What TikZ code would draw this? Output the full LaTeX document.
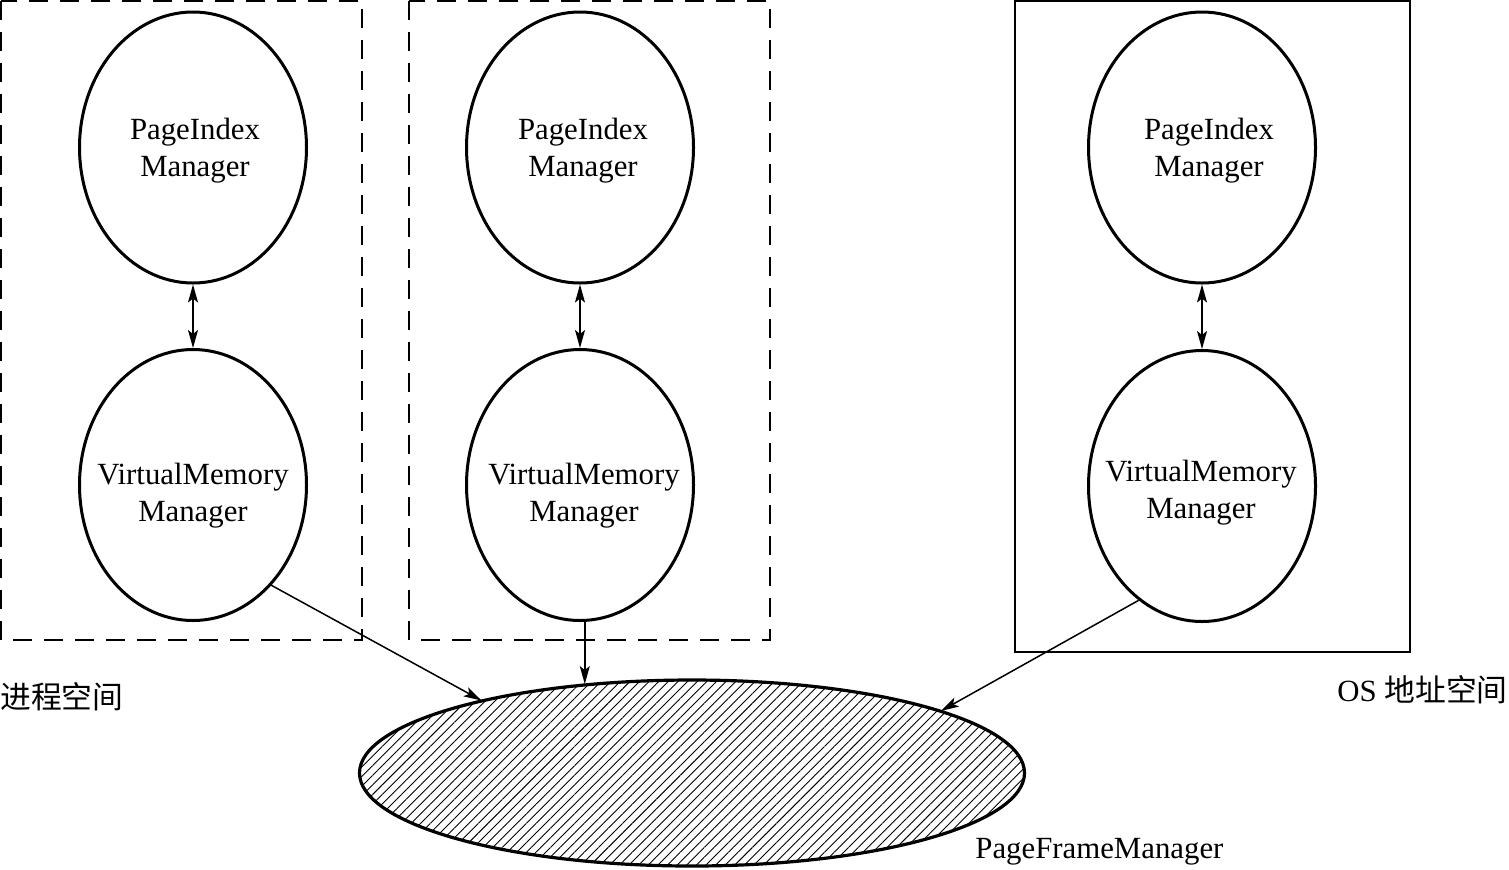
\documentclass[tikz,border=0pt]{standalone}
\usepackage{fontspec}
\setmainfont{Liberation Serif}
\newfontfamily\cjk{Noto Sans CJK SC}
\usetikzlibrary{shapes.geometric,arrows.meta,patterns.meta}
\begin{document}
\begin{tikzpicture}[x=0.5pt,y=-0.5pt,
  every node/.style={font=\fontsize{15.4}{18.5}\selectfont},
  mgr/.style={draw,ellipse,line width=1.5pt,inner sep=0pt,minimum width=113.5pt,minimum height=135.5pt},
  txt/.style={align=center,inner sep=0pt},
  dbox/.style={draw,line width=1.4pt,dash pattern=on 9.5pt off 6pt},
  sbox/.style={draw,line width=1.4pt},
  conn/.style={line width=0.75pt,-{Stealth[length=9pt,width=5pt,inset=2pt]}},
  dconn/.style={line width=0.75pt,{Stealth[length=9pt,width=5pt,inset=2pt]}-{Stealth[length=9pt,width=5pt,inset=2pt]}},
  lbl/.style={inner sep=0pt}]
\useasboundingbox (0,0) rectangle (1509,869);
% boxes
\draw[dbox] (1,1) rectangle (362,640);
\draw[dbox] (409,1) rectangle (770,640);
\draw[sbox] (1015,1) rectangle (1410,652);
% ellipses
\node[mgr] (p1) at (193,147.5) {};
\node[mgr] (v1) at (193,485) {};
\node[mgr] (p2) at (580,147.5) {};
\node[mgr] (v2) at (580,485) {};
\node[mgr] (p3) at (1202,147.5) {};
\node[mgr] (v3) at (1202,486) {};
\node[txt] (tp1) at (195,151) {PageIndex\\Manager};
\node[txt] (tv1) at (193,496) {VirtualMemory\\Manager};
\node[txt] (tp2) at (583,151) {PageIndex\\Manager};
\node[txt] (tv2) at (584,496) {VirtualMemory\\Manager};
\node[txt] (tp3) at (1209,151) {PageIndex\\Manager};
\node[txt] (tv3) at (1201,493) {VirtualMemory\\Manager};
% page frame manager
\node[draw,ellipse,line width=1.6pt,minimum width=332.5pt,minimum height=93pt,inner sep=0pt,
  pattern={Lines[angle=45,distance=3.4pt,line width=0.45pt]}] (pfm) at (692,773) {};
% connectors
\draw[dconn] (p1.south) -- (v1.north);
\draw[dconn] (p2.south) -- (v2.north);
\draw[dconn] (p3.south) -- (v3.north);
\draw[conn] (v1.-52) -- (pfm.161.4);
\draw[conn] (v2.-88.5) -- (v2.-88.5 |- pfm.139.7);
\draw[conn] (v3.241.5) -- (pfm.14.3);
% labels
\node[lbl,anchor=west] (l1) at (0,697) {\cjk 进程空间};
\node[lbl,anchor=east] (l2) at (1508,690) {OS {\cjk 地址空间}};
\node[lbl,anchor=west] (l3) at (975,852) {PageFrameManager};
\end{tikzpicture}
\end{document}
